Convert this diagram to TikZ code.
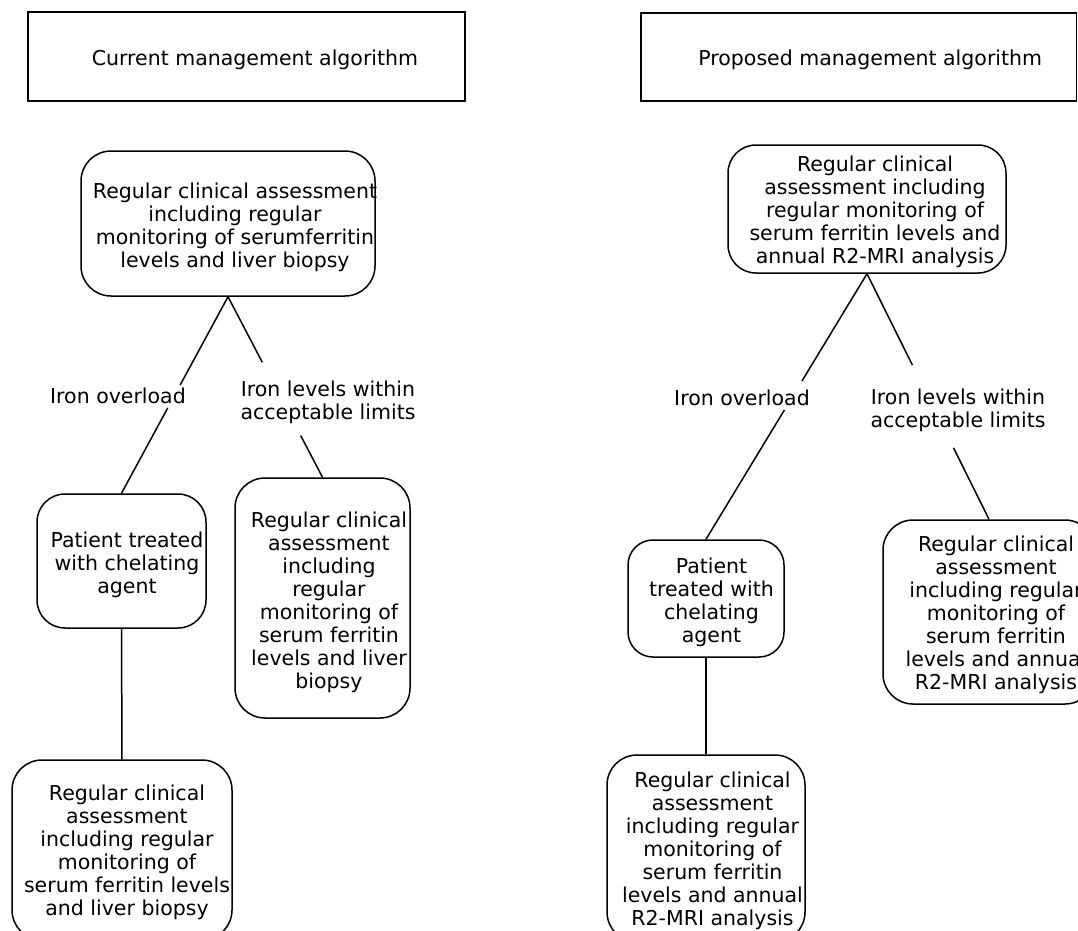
\documentclass[tikz,border=0pt]{standalone}
\usepackage{fontspec}
\setmainfont{DejaVu Sans}
\usetikzlibrary{calc}
\begin{document}
\begin{tikzpicture}[x=1pt,y=-1pt,
  txt/.style={font=\fontsize{20.5}{23}\selectfont, align=center, inner sep=0pt, text=black},
  titlebox/.style={draw, line width=1.5pt, rectangle, inner sep=0pt},
  rbox/.style={draw, line width=1.5pt, rectangle, rounded corners=30pt, inner sep=0pt},
  conn/.style={line width=1.5pt}]
\clip (0,0) rectangle (1078,930);
\fill[white] (0,0) rectangle (1078,930);
% titles
\node[titlebox, minimum width=437pt, minimum height=89pt,
  label={[txt, xshift=8.5pt, yshift=-3.5pt]center:Current management algorithm}] (LT) at (246.5,56.5) {};
\node[titlebox, minimum width=435.5pt, minimum height=88pt,
  label={[txt, xshift=11.5pt, yshift=-3pt]center:Proposed management algorithm}] (RT) at (858.75,57) {};
% left tree
\node[rbox, minimum width=294pt, minimum height=145pt,
  label={[txt, xshift=7pt, yshift=-4pt]center:{Regular clinical assessment\\including regular\\monitoring of serumferritin\\levels and liver biopsy}}] (L0) at (228,223.5) {};
\node[rbox, rounded corners=28pt, minimum width=169pt, minimum height=134pt,
  label={[txt, xshift=5.5pt, yshift=-4pt]center:{Patient treated\\with chelating\\agent}}] (L1) at (121.5,561) {};
\node[rbox, minimum width=175pt, minimum height=240pt,
  label={[txt, xshift=6.5pt, yshift=-4pt]center:{Regular clinical\\assessment\\including\\regular\\monitoring of\\serum ferritin\\levels and liver\\biopsy}}] (L2) at (322.5,598) {};
\node[rbox, minimum width=220pt, minimum height=180pt,
  label={[txt, xshift=5pt, yshift=-2.5pt]center:{Regular clinical\\assessment\\including regular\\monitoring of\\serum ferritin levels\\and liver biopsy}}] (L3) at (122,850) {};
\node[txt] (LA) at (118,396) {Iron overload};
\node[txt] (LB) at (328,402.5) {Iron levels within\\acceptable limits};
\coordinate (la1) at ($(L0.south)!0.449!(L1.north)$);
\coordinate (la2) at ($(L0.south)!0.566!(L1.north)$);
\coordinate (lb1) at ($(L0.south)!0.363!(L2.north)$);
\coordinate (lb2) at ($(L0.south)!0.769!(L2.north)$);
\draw[conn] (L0.south) -- (la1);
\draw[conn] (la2) -- (L1.north);
\draw[conn] (L0.south) -- (lb1);
\draw[conn] (lb2) -- (L2.north);
\draw[conn] (L1.south) -- (L3.north);
% right tree
\node[rbox, rounded corners=28pt, minimum width=278pt, minimum height=128pt,
  label={[txt, xshift=8pt, yshift=-3pt]center:{Regular clinical\\assessment including\\regular monitoring of\\serum ferritin levels and\\annual R2-MRI analysis}}] (R0) at (867,209) {};
\node[rbox, rounded corners=25pt, minimum width=156pt, minimum height=117pt,
  label={[txt, xshift=5.5pt, yshift=-3.5pt]center:{Patient\\treated with\\chelating\\agent}}] (R1) at (706,598.5) {};
\node[rbox, minimum width=212pt, minimum height=184pt,
  label={[txt, xshift=7pt, yshift=-2.5pt]center:{Regular clinical\\assessment\\including regular\\monitoring of\\serum ferritin\\levels and annual\\R2-MRI analysis}}] (R2) at (989,612) {};
\node[rbox, minimum width=198pt, minimum height=187pt,
  label={[txt, xshift=6.5pt, yshift=-2pt]center:{Regular clinical\\assessment\\including regular\\monitoring of\\serum ferritin\\levels and annual\\R2-MRI analysis}}] (R3) at (706,848.5) {};
\node[txt] (RA) at (742,397.5) {Iron overload};
\node[txt] (RB) at (958,410) {Iron levels within\\acceptable limits};
\coordinate (ra1) at ($(R0.south)!0.404!(R1.north)$);
\coordinate (ra2) at ($(R0.south)!0.513!(R1.north)$);
\coordinate (rb1) at ($(R0.south)!0.372!(R2.north)$);
\coordinate (rb2) at ($(R0.south)!0.709!(R2.north)$);
\draw[conn] (R0.south) -- (ra1);
\draw[conn] (ra2) -- (R1.north);
\draw[conn] (R0.south) -- (rb1);
\draw[conn] (rb2) -- (R2.north);
\draw[conn] (R1.south) -- (R3.north);
\end{tikzpicture}
\end{document}
